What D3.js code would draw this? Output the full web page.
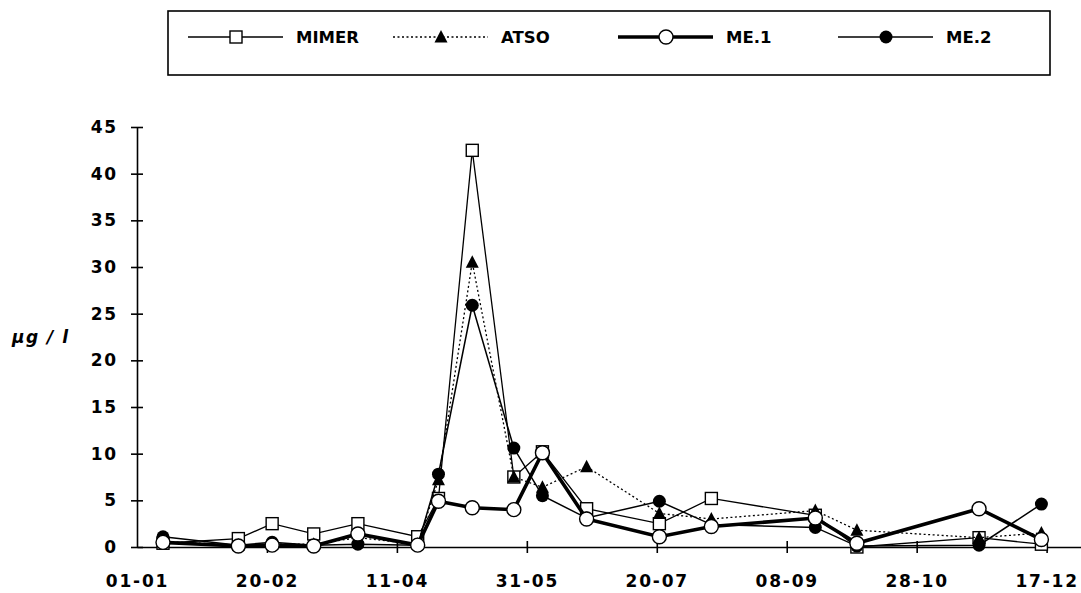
<!DOCTYPE html>
<html>
<head>
<meta charset="utf-8">
<script src="https://cdn.jsdelivr.net/npm/d3@7"></script>
<style>
  body { margin: 0; background: #fff; }
  svg { display: block; }
  .axis text { font-family: "DejaVu Sans", sans-serif; font-weight: bold; font-size: 17px; letter-spacing: 1.8px; fill: #000; }
  .axis path, .axis line { stroke: #000; stroke-width: 1.6px; }
</style>
</head>
<body>
<svg id="chart" width="1081" height="593"></svg>
<script>
// sampling dates (dd-mm) and concentrations in µg/l
const dates = ["11-01","09-02","22-02","10-03","27-03","19-04","27-04","10-05","26-05","06-06","23-06","21-07","10-08","19-09","05-10","21-11","15-12"];
const mimer = [0.4, 0.9, 2.5, 1.4, 2.5, 1.1, 5.2, 42.5, 7.5, 10.2, 4.1, 2.5, 5.2, 3.4, 0.0, 1.0, 0.3];
const atso  = [0.6, 0.2, 0.3, 0.3, 1.0, 0.3, 7.2, 30.5, 7.5, 6.4, 8.6, 3.6, 3.0, 3.9, 1.8, 1.0, 1.5];
const me1   = [0.5, 0.1, 0.2, 0.1, 1.4, 0.2, 4.9, 4.2, 4.0, 10.1, 3.0, 1.1, 2.2, 3.1, 0.4, 4.1, 0.8];
const me2   = [1.1, 0.2, 0.5, 0.2, 0.3, 0.2, 7.8, 25.9, 10.6, 5.5, 3.1, 4.9, 2.4, 2.1, 0.1, 0.2, 4.6];
const xTicks = ["01-01","20-02","11-04","31-05","20-07","08-09","28-10","17-12"];
const yTicks = [0, 5, 10, 15, 20, 25, 30, 35, 40, 45];

const parse = d3.utcParse("%d-%m");
const fmt = d3.utcFormat("%d-%m");

const series = [
  {name: "MIMER", values: mimer, width: 1.3, dash: null, marker: "square"},
  {name: "ATSO",  values: atso,  width: 1.3, dash: "2,2.5", marker: "triangle"},
  {name: "ME.2",  values: me2,   width: 1.5, dash: null, marker: "dot"},
  {name: "ME.1",  values: me1,   width: 3.6, dash: null, marker: "circle"}
];
const legendOrder = ["MIMER", "ATSO", "ME.1", "ME.2"];

const svg = d3.select("#chart");
const x = d3.scaleUtc().domain([parse("01-01"), parse("31-12")]).range([137, 1083]);
const y = d3.scaleLinear().domain([0, 45]).range([547, 127]);

// axes, ticks cross the axis line
const xAxis = svg.append("g").classed("axis", true)
  .attr("transform", `translate(0,${y(0)})`)
  .call(d3.axisBottom(x).tickValues(xTicks.map(parse)).tickFormat(fmt)
        .tickSizeInner(6).tickSizeOuter(0).tickPadding(22));
xAxis.selectAll(".tick line").attr("y1", -6);
xAxis.select(".tick").select("line").remove();

const yAxis = svg.append("g").classed("axis", true)
  .attr("transform", `translate(${x(parse("01-01"))},0)`)
  .call(d3.axisLeft(y).tickValues(yTicks).tickSizeInner(6).tickSizeOuter(0).tickPadding(13));
yAxis.selectAll(".tick line").attr("x1", 6);

svg.append("text")
  .attr("x", 12).attr("y", 343)
  .style("font-family", "DejaVu Sans, sans-serif")
  .style("font-weight", "bold").style("font-style", "italic").style("font-size", "17px")
  .style("letter-spacing", "1.5px")
  .text("µg / l");

function drawMarker(g, type, cx, cy) {
  if (type === "square") {
    g.append("rect").attr("x", cx - 6).attr("y", cy - 6).attr("width", 12).attr("height", 12)
      .attr("fill", "#fff").attr("stroke", "#000").attr("stroke-width", 1.4);
  } else if (type === "triangle") {
    g.append("path").attr("d", `M${cx},${cy - 7}L${cx + 6.5},${cy + 5.5}L${cx - 6.5},${cy + 5.5}Z`).attr("fill", "#000");
  } else if (type === "dot") {
    g.append("circle").attr("cx", cx).attr("cy", cy).attr("r", 6.5).attr("fill", "#000");
  } else {
    g.append("circle").attr("cx", cx).attr("cy", cy).attr("r", 7)
      .attr("fill", "#fff").attr("stroke", "#000").attr("stroke-width", 1.4);
  }
}

const line = d3.line().x(d => x(d.date)).y(d => y(d.value));
const plot = svg.append("g");
series.forEach(s => {
  const pts = dates.map((d, i) => ({date: parse(d), value: s.values[i]}));
  const g = plot.append("g");
  g.append("path").datum(pts).attr("d", line)
    .attr("fill", "none").attr("stroke", "#000")
    .attr("stroke-width", s.width).attr("stroke-dasharray", s.dash);
  pts.forEach(p => drawMarker(g, s.marker, x(p.date), y(p.value)));
});

// legend box
const legend = svg.append("g");
legend.append("rect").attr("x", 168).attr("y", 11).attr("width", 882).attr("height", 64)
  .attr("fill", "none").attr("stroke", "#000").attr("stroke-width", 1.6);
const legendX = [188, 393, 618, 838];
legendOrder.forEach((name, i) => {
  const s = series.find(e => e.name === name);
  const lx = legendX[i];
  const g = legend.append("g");
  g.append("line").attr("x1", lx).attr("x2", lx + 95).attr("y1", 37).attr("y2", 37)
    .attr("stroke", "#000").attr("stroke-width", s.width).attr("stroke-dasharray", s.dash);
  drawMarker(g, s.marker, lx + 48, 37);
  g.append("text").attr("x", lx + 108).attr("y", 43)
    .style("font-family", "DejaVu Sans, sans-serif").style("font-weight", "bold").style("font-size", "16.5px")
    .text(name);
});
</script>
</body>
</html>
